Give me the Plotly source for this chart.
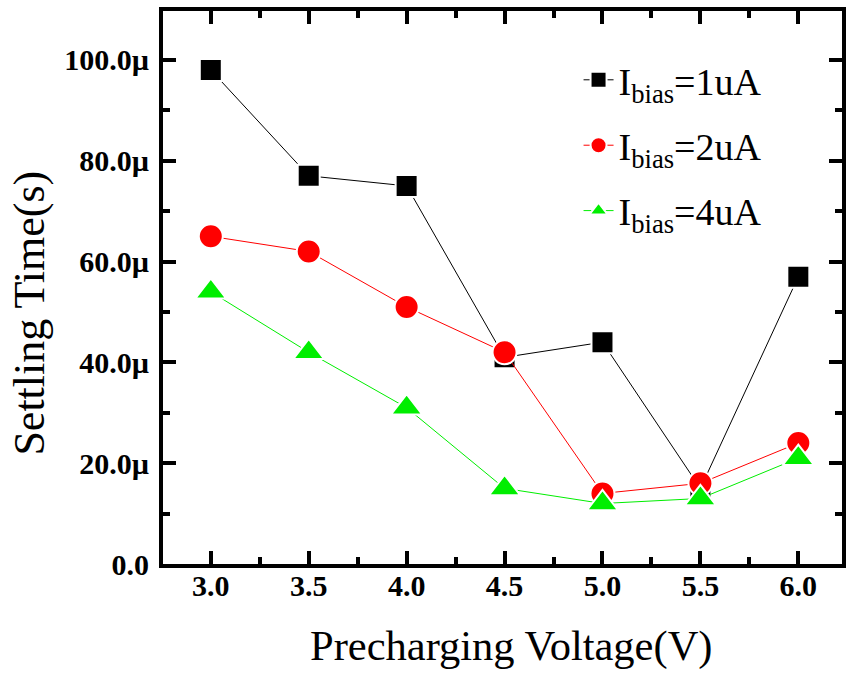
import plotly.graph_objects as go

voltage = [3.0, 3.5, 4.0, 4.5, 5.0, 5.5, 6.0]
t_1uA = [98, 77, 75, 41, 44, 15, 57]
t_2uA = [65, 62, 51, 42, 14, 16, 24]
t_4uA = [54, 42, 31, 15, 12, 13, 21]

y_tickvals = [0, 20, 40, 60, 80, 100]
y_ticktext = ["0.0", "20.0µ", "40.0µ", "60.0µ", "80.0µ", "100.0µ"]
x_tickvals = [3.0, 3.5, 4.0, 4.5, 5.0, 5.5, 6.0]
x_ticktext = ["3.0", "3.5", "4.0", "4.5", "5.0", "5.5", "6.0"]

series = [
    ("I<sub>bias</sub>=1uA", t_1uA, "#000000", "square", 22),
    ("I<sub>bias</sub>=2uA", t_2uA, "#ff0000", "circle", 24),
    ("I<sub>bias</sub>=4uA", t_4uA, "#00ee00", "triangle-up", 27),
]

fig = go.Figure()
for i, (name, vals, col, sym, sz) in enumerate(series):
    fig.add_trace(go.Scatter(
        x=voltage, y=vals, name=name, mode="lines+markers",
        legendgroup=f"g{i}",
        line=dict(color=col, width=1),
        marker=dict(symbol=sym, size=sz, color=col, line=dict(color="white", width=2)),
    ))

serif = "Liberation Serif, Times New Roman, serif"
fig.update_layout(
    width=846, height=673,
    margin=dict(l=163, r=0, t=11, b=109),
    paper_bgcolor="white", plot_bgcolor="white",
    font=dict(family=serif, color="black"),
    showlegend=True,
    legend=dict(x=0.612, y=0.932, xanchor="left", yanchor="top",
                font=dict(size=38, family=serif), bgcolor="rgba(0,0,0,0)",
                tracegroupgap=13, itemsizing="trace"),
    xaxis=dict(
        range=[2.756, 6.223], tickvals=x_tickvals, ticktext=x_ticktext,
        showgrid=False, zeroline=False, showline=True, linecolor="black", linewidth=4,
        mirror="ticks", ticks="inside", ticklen=13, tickwidth=4, tickcolor="black",
        minor=dict(dtick=0.25, tick0=2.75, ticks="inside", ticklen=7, tickwidth=4, tickcolor="black"),
        tickfont=dict(size=30, family=serif, weight="bold"),
        ticklabelstandoff=-8,
    ),
    yaxis=dict(
        range=[0, 109.7], tickvals=y_tickvals, ticktext=y_ticktext,
        showgrid=False, zeroline=False, showline=True, linecolor="black", linewidth=4,
        mirror="ticks", ticks="inside", ticklen=13, tickwidth=4, tickcolor="black",
        minor=dict(dtick=10, tick0=0, ticks="inside", ticklen=7, tickwidth=4, tickcolor="black"),
        tickfont=dict(size=30, family=serif, weight="bold"),
        ticklabelstandoff=4,
    ),
    annotations=[
        dict(text="Precharging Voltage(V)", xref="paper", yref="paper",
             x=0.5126, y=-0.148, xanchor="center", yanchor="middle", showarrow=False,
             font=dict(size=42.5, family=serif, color="black")),
        dict(text="Settling Time(s)", xref="paper", yref="paper", textangle=-90,
             x=-0.197, y=0.4532, xanchor="center", yanchor="middle", showarrow=False,
             font=dict(size=44, family=serif, color="black")),
    ],
)

fig.write_html("out.html")
